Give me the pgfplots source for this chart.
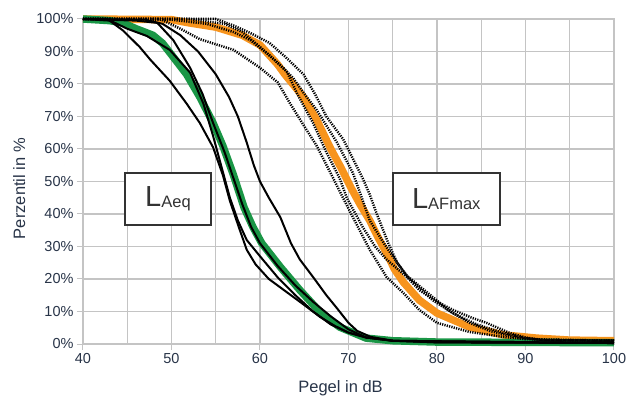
\documentclass[border=0pt]{standalone}
\usepackage{fontspec}
\setmainfont{Liberation Sans}
\usepackage{pgfplots}
\pgfplotsset{compat=1.18}
\definecolor{cgreen}{RGB}{26,150,70}
\definecolor{corange}{RGB}{247,148,29}
\definecolor{cgrid}{RGB}{196,196,196}
\definecolor{ctext}{RGB}{40,52,72}
\definecolor{cbox}{RGB}{51,51,51}
\begin{document}
\begin{tikzpicture}
\useasboundingbox (-83bp,-52bp) rectangle (545bp,344bp);
\begin{axis}[
  scale only axis, width=531bp, height=325bp,
  xmin=40, xmax=100, ymin=0, ymax=100, clip=false,
  xtick={40,50,...,100}, xticklabels={40,50,60,70,80,90,100},
  minor xtick={45,55,...,95},
  ytick={0,10,...,100},
  yticklabels={0\%,10\%,20\%,30\%,40\%,50\%,60\%,70\%,80\%,90\%,100\%},
  grid=both,
  grid style={cgrid, line width=1.2bp},
  minor grid style={cgrid, line width=1.2bp},
  major grid style={cgrid, line width=1.2bp},
  axis line style={cgrid, line width=1.2bp},
  tick style={cgrid, line width=1bp},
  major tick length=6bp, minor tick length=0pt, tick align=outside, tick pos=left,
  ticklabel style={font=\fontsize{14.5bp}{16bp}\selectfont, text=ctext},
  xlabel={Pegel in dB}, ylabel={Perzentil in \%},
  label style={font=\fontsize{16.5bp}{18bp}\selectfont, text=ctext},
  xlabel style={at={(axis description cs:0.485,-0.148)}, anchor=base},
  ylabel style={at={(axis description cs:-0.1092,0.478)}, anchor=base, rotate=0},
]
% LAFmax mean (orange)
\addplot[corange, line width=7.5bp, line join=round] coordinates {
(40,100)(50,99.8)(52,98.8)(55,97.5)(58,95)(60,92)(62,86)(62.8,83)(64.9,76)(66.4,69)(68,60)(69.2,54)(70.3,48)(71.3,43)(72.4,38)(73.3,33)(74.3,28)(75.2,23)(76.2,19)(78,13.5)(80,9.5)(83.7,5.2)(87.5,2.8)(91.3,1.8)(95,1.2)(100,1)};
% LAeq mean (green)
\addplot[cgreen, line width=7.5bp, line join=round] coordinates {
(40,100)(43,99.5)(44.5,98.8)(46,97)(47.9,95)(49,92.5)(50,89)(51.7,83)(53.2,76)(54.7,68)(55.8,61)(57,52)(58.2,42)(59.2,36)(60.2,31)(62.3,23.7)(64.5,16.6)(66.8,9.8)(69,5.2)(72,1.8)(75,1)(80,0.6)(100,0.4)};
% LAFmax individual (dotted)
\addplot[black, line width=2.5bp, dash pattern=on 1.2bp off 1.2bp] coordinates {
(40,100)(48.7,100)(51,97)(53.2,93.8)(57,90.5)(60,85)(62,80.5)(63.4,74)(65,67)(66.4,61)(67.9,53)(69,47)(70.5,39)(72.4,29)(74.3,20.6)(76.2,15.7)(78,10.5)(80,6.5)(83.7,3.7)(87.5,2.2)(90,1.5)(100,1)};
\addplot[black, line width=2.5bp, dash pattern=on 1.2bp off 1.2bp] coordinates {
(40,100)(50,99.8)(54,98.5)(57,96)(58.9,93.5)(61,89)(63,84)(64.2,77)(66,68)(67.5,59)(69,51)(69.8,45)(71.6,36)(73,30)(74.3,26)(77.3,19)(79.5,13.5)(81.8,9.5)(84.5,6)(87.5,3.4)(90,1.8)(92,1.2)(100,1)};
\addplot[black, line width=2.5bp, dash pattern=on 1.2bp off 1.2bp] coordinates {
(40,100)(52,100)(56,98.5)(58,96)(60,91.4)(62,86.5)(63.7,82)(65,77)(66.4,72)(68.7,62)(70.5,52.6)(71.5,45)(72.4,38)(74,31)(75.5,25)(76.6,21)(79.5,14.5)(81.5,10)(83.7,6.5)(86,4)(89,2)(92,1.2)(100,1)};
\addplot[black, line width=2.5bp, dash pattern=on 1.2bp off 1.2bp] coordinates {
(40,100)(55,100)(57,98)(58.9,95.7)(61.1,92.6)(63,88)(64.9,83)(66.2,77)(67.5,70)(69.4,63)(70.5,57)(71.6,51)(72.4,46)(73.2,40)(74.5,31)(75.5,25)(77,19.5)(78,16.6)(80,13)(81.8,10.5)(84,8)(85.6,6.5)(88.2,3.4)(90,2)(92,1.2)(100,1)};
% LAeq individual (solid)
\addplot[black, line width=2bp, line join=round] coordinates {
(40,100)(43,99.5)(44.5,96.5)(46.4,91.4)(47.6,87.5)(49.8,81)(51.7,74)(53.2,68)(54.7,60.5)(55.8,52)(56.6,44)(57.6,36)(58.5,29)(59.5,24.5)(61,20)(63,16)(65,12)(66.8,8.3)(68.5,5.5)(70,3.5)(72,2)(75,1)(80,0.5)(100,0.3)};
\addplot[black, line width=2bp, line join=round] coordinates {
(40,100)(42.7,100)(45,97)(47.2,94.8)(49.8,90.5)(52.1,83.5)(53.6,74)(54.7,64)(55.8,53)(56.6,45)(57.5,38)(58.5,32)(60,27)(62,20.5)(64,15)(66,10)(68,6)(70,3.5)(72,2)(75,1)(100,0.3)};
\addplot[black, line width=2bp, line join=round] coordinates {
(40,100)(46,99.5)(48.4,98.8)(50.2,93.5)(52.1,85)(53.5,77)(54.7,68)(56,59)(57,51)(58,43)(59,36)(60,31)(62,24)(64,18)(66,13)(68,8.5)(70,4.5)(72,2)(75,1)(100,0.3)};
\addplot[black, line width=2bp, line join=round] coordinates {
(40,100)(47,99.8)(49,98.5)(51,95)(53,90)(55,83)(56.5,76)(57.5,70)(58.5,62)(59.3,55)(60,50)(61,45)(62.3,39)(63.5,31)(64.5,26)(66,20.6)(67.5,15)(68.7,11)(70,6.5)(71,4)(72.5,2.2)(75,1)(80,0.5)(100,0.3)};
% Labels
\node[draw=cbox, line width=1.6bp, fill=white, minimum width=86bp, minimum height=52bp, inner sep=0pt, text=cbox]
  at (axis cs:49.6,44.6) {{\fontsize{29bp}{30bp}\selectfont L}\raisebox{-1bp}{\fontsize{16.5bp}{18bp}\selectfont Aeq}};
\node[draw=cbox, line width=1.6bp, fill=white, minimum width=107bp, minimum height=52bp, inner sep=0pt, text=cbox]
  at (axis cs:81.05,44.6) {{\fontsize{29bp}{30bp}\selectfont L}\raisebox{-1bp}{\fontsize{16.5bp}{18bp}\selectfont AFmax}};
\end{axis}
\end{tikzpicture}
\end{document}
